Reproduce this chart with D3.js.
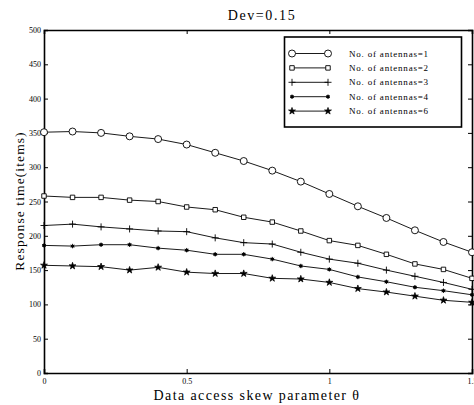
<!DOCTYPE html>
<html>
<head>
<meta charset="utf-8">
<script src="https://cdn.jsdelivr.net/npm/d3@7"></script>
<style>
  body { margin: 0; background: #fff; overflow: hidden; }
  text { font-family: "Liberation Serif", "Times New Roman", serif; fill: #000; }
</style>
</head>
<body>
<svg></svg>
<script>
var width = 474;
var height = 405;

// data
var theta = [0, 0.1, 0.2, 0.3, 0.4, 0.5, 0.6, 0.7, 0.8, 0.9, 1.0, 1.1, 1.2, 1.3, 1.4, 1.5];
var ant1 = [351, 352, 350, 345, 341, 333, 321, 309, 295, 279, 261, 243, 226, 208, 191, 176];
var ant2 = [258, 256, 256, 252, 250, 242, 238, 227, 220, 207, 193, 186, 173, 159, 151, 138];
var ant3 = [215, 217, 213, 210, 207, 206, 197, 190, 188, 176, 166, 160, 150, 141, 132, 122];
var ant4 = [186, 185, 187, 187, 182, 179, 173, 173, 166, 156, 151, 140, 133, 125, 120, 114];
var ant6 = [157, 156, 155, 150, 154, 147, 145, 145, 138, 137, 132, 123, 118, 112, 106, 103];
var seriesNames = ["No. of antennas=1", "No. of antennas=2", "No. of antennas=3", "No. of antennas=4", "No. of antennas=6"];
var markers = ["circle", "square", "plus", "asterisk", "star"];
var xTicks = [0, 0.5, 1, 1.5];
var yTicks = [0, 50, 100, 150, 200, 250, 300, 350, 400, 450, 500];

var series = [ant1, ant2, ant3, ant4, ant6].map(function (vals, i) {
  return { name: seriesNames[i], marker: markers[i], values: vals.map(function (v, j) { return { x: theta[j], y: v }; }) };
});

var margin = { left: 44, right: 2, top: 30, bottom: 32 };

var svg = d3.select("svg")
            .attr("width", width)
            .attr("height", height);

var x = d3.scaleLinear().domain([0, 1.5]).range([margin.left, width - margin.right]);
var y = d3.scaleLinear().domain([0, 500]).range([height - margin.bottom, margin.top]);

// axes, MATLAB style ticks pointing inward
svg.append("g")
   .attr("transform", "translate(0," + y(0) + ")")
   .call(d3.axisBottom(x).tickValues(xTicks).tickSize(-4).tickPadding(5).tickFormat(d3.format("")))
   .call(g => g.selectAll("text").attr("font-size", 8));
svg.append("g")
   .attr("transform", "translate(0," + y(500) + ")")
   .call(d3.axisTop(x).tickValues(xTicks).tickSize(-4).tickFormat(""));
svg.append("g")
   .attr("transform", "translate(" + x(0) + ",0)")
   .call(d3.axisLeft(y).tickValues(yTicks).tickSize(-4).tickPadding(3))
   .call(g => g.selectAll("text").attr("font-size", 8));
svg.append("g")
   .attr("transform", "translate(" + x(1.5) + ",0)")
   .call(d3.axisRight(y).tickValues(yTicks).tickSize(-4).tickFormat(""));

svg.selectAll(".domain").attr("stroke-width", 1.6).attr("stroke", "#000");
svg.selectAll(".tick line").attr("stroke", "#000");
svg.selectAll(".tick text").attr("font-family", "Liberation Serif, serif").attr("fill", "#222");

var line = d3.line().x(d => x(d.x)).y(d => y(d.y));

function drawMarker(sel, kind) {
  if (kind === "circle") {
    sel.append("circle").attr("r", 3.5).attr("fill", "#fff").attr("stroke", "#000").attr("stroke-width", 0.9);
  } else if (kind === "square") {
    sel.append("path").attr("d", d3.symbol(d3.symbolSquare, 20)).attr("fill", "#fff").attr("stroke", "#000").attr("stroke-width", 0.9);
  } else if (kind === "plus") {
    sel.append("path").attr("d", "M-3.5,0H3.5M0,-3.5V3.5").attr("stroke", "#000").attr("stroke-width", 0.9);
  } else if (kind === "asterisk") {
    sel.append("path").attr("d", d3.symbol(d3.symbolAsterisk, 14)).attr("fill", "none").attr("stroke", "#000").attr("stroke-width", 0.8);
    sel.append("circle").attr("r", 1.7).attr("fill", "#000");
  } else if (kind === "star") {
    sel.append("path").attr("d", d3.symbol(d3.symbolStar, 15)).attr("fill", "#000").attr("stroke", "#000").attr("stroke-width", 0.7);
  }
}

series.forEach(function (s) {
  svg.append("path")
     .datum(s.values)
     .attr("d", line)
     .attr("fill", "none")
     .attr("stroke", "#000")
     .attr("stroke-width", 0.9);
  svg.append("g").selectAll("g")
     .data(s.values)
     .enter().append("g")
     .attr("transform", d => "translate(" + x(d.x) + "," + y(d.y) + ")")
     .each(function () { drawMarker(d3.select(this), s.marker); });
});

// legend
var lg = svg.append("g");
lg.append("rect")
  .attr("x", 284.5).attr("y", 37).attr("width", 177).attr("height", 90)
  .attr("fill", "#fff").attr("stroke", "#000").attr("stroke-width", 1.6);
series.forEach(function (s, i) {
  var ly = 53.5 + i * 14.4;
  lg.append("line").attr("x1", 292).attr("x2", 328).attr("y1", ly).attr("y2", ly)
    .attr("stroke", "#000").attr("stroke-width", 0.9);
  [292, 328].forEach(function (lx) {
    drawMarker(lg.append("g").attr("transform", "translate(" + lx + "," + ly + ")"), s.marker);
  });
  lg.append("text").attr("x", 349).attr("y", ly + 3)
    .attr("font-size", 9).attr("letter-spacing", 0.8).text(s.name);
});

// titles
svg.append("text")
   .attr("x", 262).attr("y", 20)
   .attr("text-anchor", "middle").attr("font-size", 14).attr("letter-spacing", 1.6)
   .text("Dev=0.15");
svg.append("text")
   .attr("x", 257).attr("y", 400)
   .attr("text-anchor", "middle").attr("font-size", 14).attr("letter-spacing", 1.4)
   .text("Data access skew parameter θ");
svg.append("text")
   .attr("transform", "translate(24,201) rotate(-90)")
   .attr("text-anchor", "middle").attr("font-size", 13.5).attr("letter-spacing", 1.1)
   .text("Response time(items)");
</script>
</body>
</html>
